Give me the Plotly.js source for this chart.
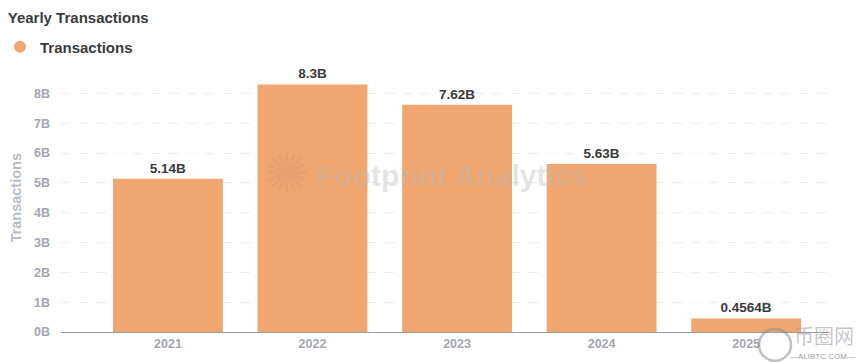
<!DOCTYPE html>
<html>
<head>
<meta charset="utf-8">
<script src="https://cdn.plot.ly/plotly-3.0.1.min.js"></script>
<style>html,body{margin:0;padding:0;background:#fff;}#chart{width:860px;height:362px;}</style>
</head>
<body>
<div id="chart"></div>
<script>
const years = ['2021', '2022', '2023', '2024', '2025'];
const transactionsB = [5.14, 8.3, 7.62, 5.63, 0.4564];
const valueLabels = ['5.14B', '8.3B', '7.62B', '5.63B', '0.4564B'];
const yTickVals = [0, 1, 2, 3, 4, 5, 6, 7, 8];
const yTickText = ['0B', '1B', '2B', '3B', '4B', '5B', '6B', '7B', '8B'];

const barColor = '#F2A66F';
const FONT = '"Liberation Sans", Arial, sans-serif';

const traces = [
  {
    type: 'bar',
    x: years,
    y: transactionsB,
    text: valueLabels,
    textposition: 'outside',
    cliponaxis: false,
    textfont: {family: FONT, size: 13.5, color: '#3a3a3a', weight: 'bold'},
    marker: {color: barColor},
    width: 0.76,
    showlegend: false,
    hoverinfo: 'x+y'
  },
  {
    type: 'scatter',
    mode: 'markers',
    x: [null],
    y: [null],
    name: 'Transactions',
    marker: {color: barColor, size: 12, symbol: 'circle'},
    showlegend: true
  }
];

// helpers: pixel -> paper coords (plot area x 61..829, y 61..332)
const px = v => (v - 61) / 769;
const py = v => (332 - v) / 271;

const layout = {
  width: 860,
  height: 362,
  paper_bgcolor: '#fff',
  plot_bgcolor: '#fff',
  margin: {l: 61, r: 30, t: 61, b: 30},
  font: {family: FONT},
  title: {
    text: 'Yearly Transactions',
    x: 0.009, xref: 'container', xanchor: 'left',
    y: 1 - 18 / 362, yref: 'container', yanchor: 'middle',
    font: {family: FONT, size: 15, color: '#3b3b3b', weight: 'bold'}
  },
  showlegend: true,
  legend: {
    orientation: 'h',
    x: -0.013, xref: 'container', xanchor: 'left',
    y: 1 - 47 / 362, yref: 'container', yanchor: 'middle',
    font: {family: FONT, size: 15, color: '#3b3b3b', weight: 'bold'},
    itemsizing: 'constant',
    bgcolor: 'rgba(0,0,0,0)'
  },
  xaxis: {
    type: 'category',
    range: [-0.74, 4.58],
    showgrid: false,
    zeroline: false,
    showline: true,
    linecolor: '#9a9a9a',
    linewidth: 1,
    ticks: '',
    tickfont: {family: FONT, size: 12.5, color: '#a3a6b4', weight: 'bold'},
    fixedrange: true
  },
  yaxis: {
    range: [0, 9],
    tickvals: yTickVals,
    ticktext: yTickText,
    showgrid: true,
    gridcolor: '#ececec',
    griddash: 'dash',
    gridwidth: 1,
    zeroline: false,
    showline: false,
    ticks: '',
    ticklabelstandoff: 10,
    tickfont: {family: FONT, size: 12.5, color: '#a3a6b4', weight: 'bold'},
    title: {
      text: 'Transactions',
      standoff: 8,
      font: {family: FONT, size: 14.5, color: '#b7bbcb', weight: 'bold'}
    },
    fixedrange: true
  },
  shapes: [
    {type: 'line', xref: 'paper', yref: 'y', x0: 0, x1: 0, y0: 0, y1: -0.15,
     line: {color: '#9a9a9a', width: 1}},
    {type: 'circle', xref: 'paper', yref: 'paper',
     x0: px(759), x1: px(791), y0: py(361), y1: py(329),
     line: {color: 'rgba(140,140,145,0.55)', width: 2.5}}
  ],
  annotations: [
    {text: '✺', xref: 'paper', yref: 'paper', x: px(262), y: py(172),
     showarrow: false, font: {family: 'DejaVu Sans', size: 54, color: 'rgba(215,150,110,0.35)'}},
    {text: 'Footprint Analytics', xref: 'paper', yref: 'paper', x: px(452), y: py(174),
     showarrow: false, font: {family: FONT, size: 30, color: 'rgba(185,185,185,0.38)', weight: 'bold'}},
    {text: '币圈网', xref: 'paper', yref: 'paper', x: px(824), xanchor: 'center', y: py(336), yanchor: 'middle',
     showarrow: false, font: {family: 'Noto Sans CJK SC', size: 20, color: 'rgba(160,160,168,0.6)'}},
    {text: '—ALIBTC.COM—', xref: 'paper', yref: 'paper', x: px(822), xanchor: 'center', y: py(357), yanchor: 'middle',
     showarrow: false, font: {family: FONT, size: 8, color: 'rgba(130,130,135,0.8)'}}
  ]
};

Plotly.newPlot('chart', traces, layout, {displayModeBar: false, staticPlot: true});
</script>
</body>
</html>
